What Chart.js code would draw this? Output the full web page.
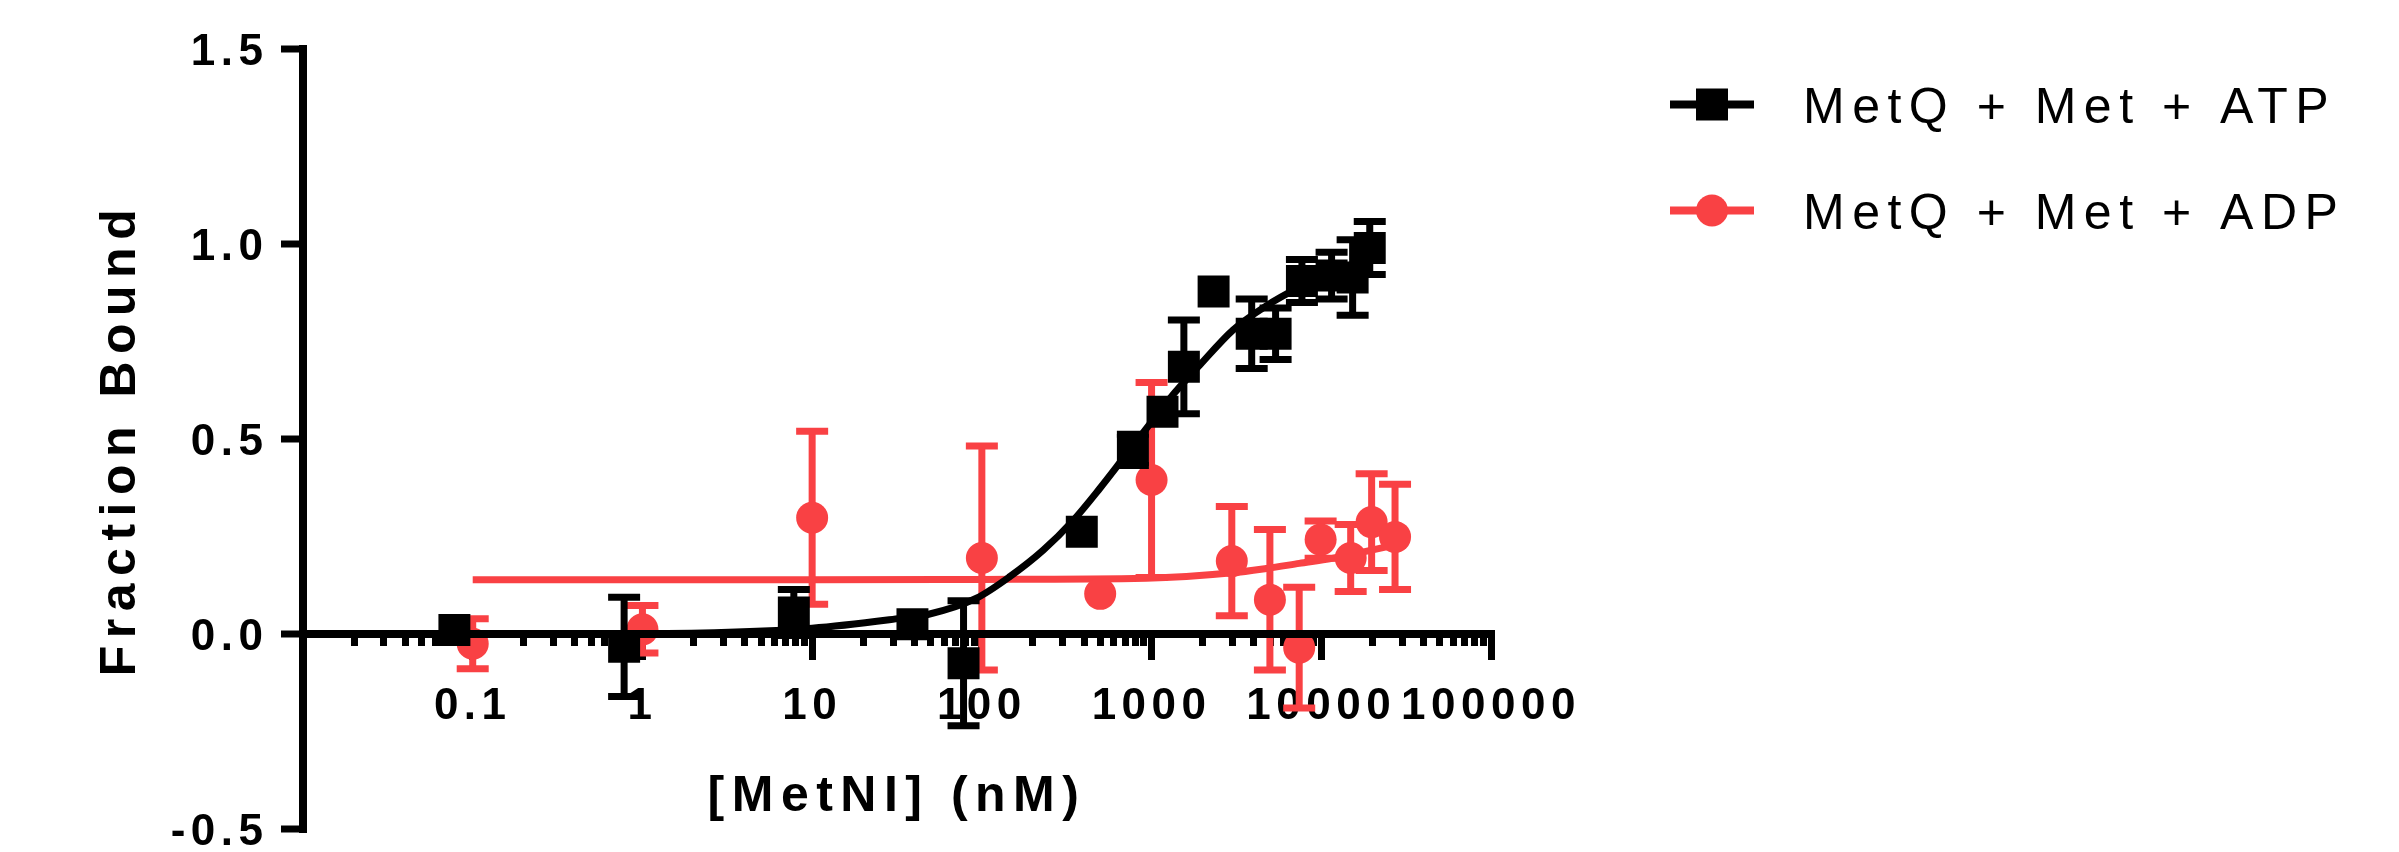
<!DOCTYPE html>
<html>
<head>
<meta charset="utf-8">
<script src="https://cdn.jsdelivr.net/npm/chart.js@4/dist/chart.umd.min.js"></script>
<style>
html,body{margin:0;padding:0;background:#ffffff;overflow:hidden}
canvas{display:block}
</style>
</head>
<body>
<canvas id="c" width="2399" height="852"></canvas>
<script>
// ---------- data ----------
const atpLabel = 'MetQ + Met + ATP';
const adpLabel = 'MetQ + Met + ADP';

const atpX   = [0.078, 0.78, 7.8, 39, 78, 388, 776, 1160, 1550, 2320, 3890, 5380, 7690, 11500, 15300, 19300];
const atpY   = [0.010, -0.033, 0.055, 0.025, -0.075, 0.262, 0.472, 0.570, 0.685, 0.878, 0.770, 0.770, 0.905, 0.919, 0.914, 0.990];
const atpErr = [0, 0.127, 0.059, 0, 0.160, 0, 0.040, 0, 0.120, 0, 0.089, 0.066, 0.055, 0.060, 0.097, 0.068];

const adpX   = [0.1, 1, 10, 100, 498, 1000, 2970, 4980, 7410, 9910, 14900, 19800, 27200];
const adpY   = [-0.025, 0.012, 0.298, 0.195, 0.103, 0.395, 0.187, 0.088, -0.035, 0.242, 0.195, 0.287, 0.249];
const adpErr = [0.064, 0.061, 0.222, 0.287, 0, 0.250, 0.140, 0.180, 0.155, 0.048, 0.086, 0.124, 0.135];

// fitted curves, points
const fitAtpX = [0.078, 1, 10, 33, 48, 93, 146, 230, 345, 495, 680, 933, 1282, 1927, 3027, 4765, 7480, 11700, 19300];
const fitAtpY = [0.000, 0.001, 0.015, 0.040, 0.050, 0.092, 0.147, 0.215, 0.291, 0.373, 0.450, 0.527, 0.604, 0.690, 0.780, 0.842, 0.890, 0.930, 0.962];
const fitAdpX = [0.1, 10, 100, 930, 3000, 4740, 7420, 11600, 18300, 27200];
const fitAdpY = [0.139, 0.139, 0.140, 0.143, 0.157, 0.168, 0.181, 0.194, 0.212, 0.228];

const xMajorTicks = [0.01, 0.1, 1, 10, 100, 1000, 10000, 100000];
const xTickLabels = ['', '0.1', '1', '10', '100', '1000', '10000', '100000'];
const xMinorMultipliers = [2, 3, 4, 5, 6, 7, 8, 9];
const yTicks = [-0.5, 0, 0.5, 1, 1.5];
const yTickLabels = ['-0.5', '0.0', '0.5', '1.0', '1.5'];
const xTitle = '[MetNI] (nM)';
const yTitle = 'Fraction Bound';

// ---------- styling ----------
const BLACK = '#000000';
const RED = 'rgb(249,65,68)';
const FAMILY = "'Liberation Sans', Arial, Helvetica, sans-serif";

const canvas = document.getElementById('c');
const ctx = canvas.getContext('2d');
// letter spacing that follows the font in use (ticks / titles / legend)
const fontDesc = Object.getOwnPropertyDescriptor(CanvasRenderingContext2D.prototype, 'font');
Object.defineProperty(ctx, 'font', {
  configurable: true,
  get() { return fontDesc.get.call(this); },
  set(v) {
    fontDesc.set.call(this, v);
    const m = /([\d.]+)px/.exec(v);
    const size = m ? parseFloat(m[1]) : 12;
    const bold = /bold|[6-9]00/.test(v);
    try { this.letterSpacing = !bold ? '7.5px' : (size >= 48 ? '7.5px' : '5.5px'); } catch (e) {}
  }
});

const pts = (xs, ys) => xs.map((x, i) => ({x: x, y: ys[i]}));
const errPts = (xs, ys, es) => xs.flatMap((x, i) =>
  es[i] > 0 ? [{x: x, y: ys[i] + es[i]}, {x: x, y: ys[i] - es[i]}, {x: x, y: null}] : []);

function legendSymbol(color, shape) {
  const c = document.createElement('canvas');
  c.width = 108; c.height = 50;
  const g = c.getContext('2d');
  const cy = 20.5;
  g.strokeStyle = color; g.lineWidth = 8;
  g.beginPath(); g.moveTo(0, cy); g.lineTo(84, cy); g.stroke();
  g.fillStyle = color;
  if (shape === 'rect') { g.fillRect(26, cy - 16, 32, 32); }
  else { g.beginPath(); g.arc(42, cy, 16, 0, Math.PI * 2); g.fill(); }
  return c;
}
const symAtp = legendSymbol(BLACK, 'rect');
const symAdp = legendSymbol(RED, 'circle');

function zeroPad(s) { s.paddingLeft = 0; s.paddingRight = 0; s.paddingTop = 0; s.paddingBottom = 0; }

const tickFont = {family: FAMILY, size: 44, weight: 'bold'};
const titleFont = {family: FAMILY, size: 50, weight: 'bold'};

new Chart(canvas, {
  type: 'scatter',
  data: {
    datasets: [
      {label: atpLabel, data: pts(atpX, atpY), xAxisID: 'x', yAxisID: 'y', order: 0,
       showLine: false, pointStyle: 'rect', pointRadius: 22.6, pointHoverRadius: 22.6,
       backgroundColor: BLACK, borderColor: BLACK, pointBorderWidth: 0},
      {label: atpLabel + ' SD', data: errPts(atpX, atpY, atpErr), xAxisID: 'x', yAxisID: 'y', order: 1,
       showLine: true, spanGaps: false, borderColor: BLACK, borderWidth: 7,
       pointStyle: 'line', pointRadius: 16, pointHoverRadius: 16, pointBorderWidth: 7,
       pointBorderColor: BLACK, pointBackgroundColor: BLACK},
      {label: atpLabel + ' fit', data: pts(fitAtpX, fitAtpY), xAxisID: 'x', yAxisID: 'y', order: 2,
       showLine: true, borderColor: BLACK, borderWidth: 7, pointRadius: 0, pointHoverRadius: 0,
       cubicInterpolationMode: 'monotone', fill: false},
      {label: adpLabel, data: pts(adpX, adpY), xAxisID: 'x', yAxisID: 'y', order: 3,
       showLine: false, pointStyle: 'circle', pointRadius: 16, pointHoverRadius: 16,
       backgroundColor: RED, borderColor: RED, pointBorderWidth: 0},
      {label: adpLabel + ' SD', data: errPts(adpX, adpY, adpErr), xAxisID: 'x', yAxisID: 'y', order: 4,
       showLine: true, spanGaps: false, borderColor: RED, borderWidth: 7,
       pointStyle: 'line', pointRadius: 16, pointHoverRadius: 16, pointBorderWidth: 7,
       pointBorderColor: RED, pointBackgroundColor: RED},
      {label: adpLabel + ' fit', data: pts(fitAdpX, fitAdpY), xAxisID: 'x', yAxisID: 'y', order: 5,
       showLine: true, borderColor: RED, borderWidth: 7, pointRadius: 0, pointHoverRadius: 0,
       cubicInterpolationMode: 'monotone', fill: false}
    ]
  },
  options: {
    responsive: false,
    devicePixelRatio: 1,
    animation: false,
    events: [],
    layout: {padding: {top: 28, bottom: 18, left: 0, right: 0}},
    plugins: {
      tooltip: {enabled: false},
      legend: {
        display: true, position: 'right', align: 'start', maxWidth: 780,
        labels: {
          usePointStyle: true, pointStyleWidth: 108, padding: 56, textAlign: 'left',
          color: BLACK, font: {family: FAMILY, size: 50, weight: 'normal'},
          generateLabels: () => [
            {text: atpLabel, pointStyle: symAtp, fillStyle: BLACK, strokeStyle: BLACK, lineWidth: 1, hidden: false, datasetIndex: 0, fontColor: BLACK},
            {text: adpLabel, pointStyle: symAdp, fillStyle: RED, strokeStyle: RED, lineWidth: 1, hidden: false, datasetIndex: 3, fontColor: BLACK}
          ]
        }
      }
    },
    scales: {
      x: {
        type: 'logarithmic', position: {y: 0}, min: 0.01, max: 100000, bounds: 'data',
        afterBuildTicks: s => { s.ticks = xMajorTicks.map(v => ({value: v})); },
        afterFit: s => { s.height = 193.25; zeroPad(s); },
        grid: {display: true, drawOnChartArea: false, drawTicks: true, tickLength: 22, tickWidth: 7,
               tickColor: BLACK, color: BLACK, lineWidth: 7},
        border: {display: true, width: 8, color: BLACK, z: 1},
        ticks: {autoSkip: false, maxRotation: 0, minRotation: 0, padding: 24, color: BLACK, font: tickFont,
                callback: (v, i) => xTickLabels[i]},
        title: {display: true, text: xTitle, color: BLACK, font: titleFont, padding: 0}
      },
      xMinor: {
        type: 'logarithmic', axis: 'x', position: {y: 0}, min: 0.01, max: 100000, bounds: 'data',
        afterBuildTicks: s => {
          const t = [];
          for (let i = 0; i < xMajorTicks.length - 1; i++) {
            xMinorMultipliers.forEach(k => t.push({value: xMajorTicks[i] * k}));
          }
          s.ticks = t;
        },
        afterFit: s => { s.height = 0; zeroPad(s); },
        grid: {display: true, drawOnChartArea: false, drawTicks: true, tickLength: 12, tickWidth: 7,
               tickColor: BLACK, color: BLACK, lineWidth: 7},
        border: {display: false},
        ticks: {display: false, autoSkip: false},
        title: {display: false}
      },
      y: {
        type: 'linear', position: 'left', min: -0.5, max: 1.5,
        afterBuildTicks: s => { s.ticks = yTicks.map(v => ({value: v})); },
        afterFit: s => { s.width = 303; s.paddingTop = 49; s.paddingBottom = 0; s.paddingLeft = 0; s.paddingRight = 0; },
        grid: {display: true, drawOnChartArea: false, drawTicks: true, tickLength: 22, tickWidth: 7,
               tickColor: BLACK, color: BLACK, lineWidth: 8},
        border: {display: true, width: 8, color: BLACK},
        ticks: {padding: 12.5, labelOffset: 4, color: BLACK, font: tickFont,
                callback: (v, i) => yTickLabels[i]},
        title: {display: true, text: yTitle, color: BLACK, font: titleFont, padding: {top: 91.5, bottom: 0}}
      },
      gap: {
        type: 'linear', axis: 'y', position: 'right', weight: 0,
        grid: {display: false}, ticks: {display: false}, border: {display: false}, title: {display: false},
        afterFit: s => { s.width = 123; zeroPad(s); }
      },
      edge: {
        type: 'linear', axis: 'y', position: 'right', weight: 2000,
        grid: {display: false}, ticks: {display: false}, border: {display: false}, title: {display: false},
        afterFit: s => {
          const lw = (s.chart.legend && s.chart.legend.width) ? s.chart.legend.width : 740;
          s.width = Math.max(0, 2399 - 1614 - lw);
          zeroPad(s);
        }
      }
    }
  }
});
</script>
</body>
</html>
